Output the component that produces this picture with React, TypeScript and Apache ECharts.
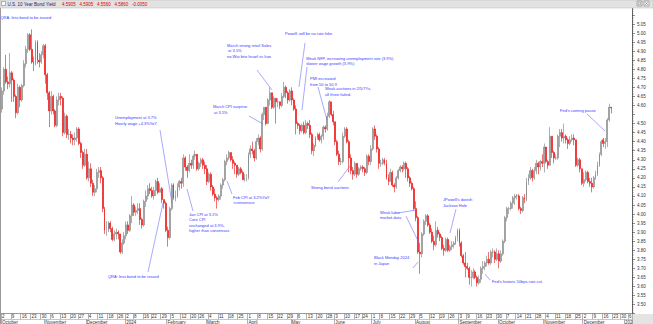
import React, { useEffect, useRef } from 'react';
import * as echarts from 'echarts';

// ---------- calendar ----------
const START = '2023-10-02';
const END = '2025-01-07';
const HOLIDAYS = ['2023-11-23', '2023-12-25', '2024-01-01', '2024-01-15', '2024-02-19', '2024-05-27', '2024-06-19', '2024-07-04', '2024-09-02', '2024-11-28', '2024-12-25', '2025-01-01'];
const MONTH_NAMES = ['January', 'February', 'March', 'April', 'May', 'June', 'July', 'August', 'September', 'October', 'November', 'December'];

// ---------- daily candles: [open, close, low, high] ----------
const oct23 = [[4.58,4.68,4.56,4.70],[4.68,4.80,4.66,4.81],[4.80,4.73,4.72,4.88],[4.73,4.72,4.69,4.76],[4.72,4.78,4.70,4.89],[4.78,4.74,4.62,4.79],[4.74,4.65,4.62,4.75],[4.65,4.56,4.53,4.66],[4.56,4.70,4.55,4.72],[4.70,4.63,4.59,4.71],[4.63,4.71,4.62,4.72],[4.71,4.83,4.70,4.85],[4.83,4.91,4.81,4.93],[4.91,4.99,4.89,5.00],[4.99,4.91,4.90,5.00],[4.91,4.84,4.83,5.02],[4.84,4.83,4.79,4.87],[4.83,4.95,4.82,4.96],[4.95,4.85,4.83,4.96],[4.85,4.84,4.81,4.89],[4.84,4.88,4.83,4.90],[4.88,4.93,4.86,4.94]];
const nov23 = [[4.93,4.77,4.72,4.94],[4.77,4.67,4.63,4.78],[4.67,4.57,4.48,4.68],[4.57,4.65,4.55,4.68],[4.65,4.57,4.55,4.66],[4.57,4.49,4.48,4.58],[4.49,4.63,4.48,4.65],[4.63,4.65,4.60,4.67],[4.65,4.64,4.60,4.67],[4.64,4.45,4.43,4.65],[4.45,4.54,4.44,4.56],[4.54,4.44,4.42,4.55],[4.44,4.44,4.41,4.47],[4.44,4.42,4.39,4.46],[4.42,4.41,4.38,4.44],[4.41,4.42,4.38,4.45],[4.42,4.47,4.40,4.48],[4.47,4.39,4.38,4.48],[4.39,4.34,4.31,4.40],[4.34,4.27,4.25,4.35],[4.27,4.33,4.26,4.36]];
const dec23 = [[4.33,4.20,4.19,4.36],[4.20,4.25,4.18,4.29],[4.25,4.17,4.15,4.28],[4.17,4.12,4.10,4.19],[4.12,4.14,4.10,4.16],[4.14,4.23,4.12,4.25],[4.23,4.24,4.20,4.26],[4.24,4.20,4.17,4.26],[4.20,4.03,4.01,4.21],[4.03,3.91,3.89,4.04],[3.91,3.91,3.88,3.96],[3.91,3.95,3.90,3.96],[3.95,3.92,3.90,3.96],[3.92,3.86,3.85,3.93],[3.86,3.89,3.85,3.91],[3.89,3.90,3.86,3.92],[3.90,3.89,3.86,3.91],[3.89,3.79,3.78,3.89],[3.79,3.84,3.78,3.86],[3.84,3.88,3.83,3.90]];
const jan24 = [[3.88,3.94,3.86,3.96],[3.94,3.91,3.89,3.96],[3.91,3.99,3.90,4.00],[3.99,4.05,3.95,4.10],[4.05,4.01,3.99,4.06],[4.01,4.02,3.99,4.04],[4.02,4.03,4.00,4.06],[4.03,3.97,3.94,4.06],[3.97,3.94,3.92,3.98],[3.94,4.07,3.93,4.08],[4.07,4.10,4.04,4.13],[4.10,4.14,4.08,4.16],[4.14,4.13,4.11,4.17],[4.13,4.10,4.09,4.15],[4.10,4.13,4.08,4.15],[4.13,4.18,4.10,4.19],[4.18,4.12,4.11,4.20],[4.12,4.14,4.12,4.17],[4.14,4.08,4.06,4.15],[4.08,4.06,4.03,4.08],[4.06,3.91,3.90,4.07]];
const feb24 = [[3.91,3.87,3.82,3.93],[3.87,4.03,3.86,4.04],[4.03,4.16,4.02,4.17],[4.16,4.09,4.08,4.17],[4.09,4.10,4.07,4.13],[4.10,4.15,4.09,4.17],[4.15,4.18,4.13,4.19],[4.18,4.17,4.14,4.20],[4.17,4.31,4.15,4.33],[4.31,4.26,4.24,4.32],[4.26,4.24,4.20,4.27],[4.24,4.28,4.23,4.33],[4.28,4.27,4.25,4.30],[4.27,4.32,4.25,4.33],[4.32,4.33,4.30,4.35],[4.33,4.25,4.24,4.33],[4.25,4.28,4.24,4.29],[4.28,4.30,4.26,4.31],[4.30,4.27,4.25,4.31],[4.27,4.25,4.22,4.29]];
const mar24 = [[4.25,4.18,4.16,4.27],[4.18,4.22,4.17,4.23],[4.22,4.15,4.13,4.23],[4.15,4.11,4.10,4.16],[4.11,4.09,4.07,4.14],[4.09,4.08,4.03,4.10],[4.08,4.10,4.07,4.11],[4.10,4.16,4.08,4.17],[4.16,4.19,4.14,4.20],[4.19,4.29,4.18,4.30],[4.29,4.31,4.27,4.33],[4.31,4.34,4.30,4.35],[4.34,4.30,4.29,4.34],[4.30,4.28,4.25,4.32],[4.28,4.27,4.22,4.29],[4.27,4.22,4.20,4.27],[4.22,4.25,4.21,4.26],[4.25,4.23,4.22,4.26],[4.23,4.19,4.19,4.24],[4.19,4.20,4.18,4.22],[4.20,4.20,4.18,4.22]];
const apr24 = [[4.20,4.33,4.19,4.34],[4.33,4.36,4.31,4.38],[4.36,4.35,4.33,4.40],[4.35,4.31,4.29,4.36],[4.31,4.40,4.30,4.42],[4.40,4.42,4.38,4.44],[4.42,4.36,4.34,4.43],[4.36,4.55,4.35,4.56],[4.55,4.59,4.52,4.59],[4.59,4.50,4.49,4.59],[4.50,4.63,4.50,4.64],[4.63,4.67,4.60,4.70],[4.67,4.59,4.58,4.67],[4.59,4.64,4.58,4.65],[4.64,4.62,4.50,4.64],[4.62,4.62,4.59,4.64],[4.62,4.60,4.58,4.62],[4.60,4.65,4.59,4.67],[4.65,4.70,4.64,4.73],[4.70,4.67,4.64,4.71],[4.67,4.63,4.61,4.68],[4.63,4.68,4.62,4.69]];
const may24 = [[4.68,4.63,4.60,4.70],[4.63,4.58,4.57,4.64],[4.58,4.50,4.44,4.60],[4.50,4.49,4.47,4.51],[4.49,4.46,4.44,4.50],[4.46,4.49,4.45,4.50],[4.49,4.45,4.44,4.51],[4.45,4.50,4.44,4.52],[4.50,4.49,4.47,4.51],[4.49,4.44,4.42,4.52],[4.44,4.35,4.33,4.45],[4.35,4.38,4.32,4.39],[4.38,4.42,4.37,4.43],[4.42,4.44,4.41,4.45],[4.44,4.41,4.40,4.45],[4.41,4.43,4.39,4.44],[4.43,4.48,4.41,4.49],[4.48,4.47,4.45,4.49],[4.47,4.54,4.46,4.56],[4.54,4.62,4.53,4.63],[4.62,4.55,4.54,4.62],[4.55,4.51,4.49,4.57]];
const jun24 = [[4.51,4.40,4.38,4.51],[4.40,4.33,4.32,4.41],[4.33,4.29,4.27,4.35],[4.29,4.29,4.27,4.31],[4.29,4.43,4.28,4.45],[4.43,4.47,4.42,4.48],[4.47,4.40,4.39,4.48],[4.40,4.31,4.23,4.41],[4.31,4.24,4.22,4.33],[4.24,4.22,4.19,4.26],[4.22,4.28,4.21,4.29],[4.28,4.22,4.20,4.28],[4.22,4.25,4.21,4.26],[4.25,4.26,4.24,4.27],[4.26,4.25,4.23,4.27],[4.25,4.23,4.21,4.26],[4.23,4.32,4.22,4.33],[4.32,4.29,4.27,4.33],[4.29,4.36,4.27,4.38]];
const jul24 = [[4.36,4.47,4.35,4.48],[4.47,4.43,4.41,4.49],[4.43,4.36,4.34,4.44],[4.36,4.28,4.25,4.37],[4.28,4.28,4.26,4.30],[4.28,4.30,4.27,4.31],[4.30,4.28,4.27,4.31],[4.28,4.20,4.19,4.30],[4.20,4.18,4.16,4.22],[4.18,4.23,4.18,4.25],[4.23,4.16,4.15,4.24],[4.16,4.15,4.12,4.17],[4.15,4.20,4.14,4.21],[4.20,4.24,4.19,4.25],[4.24,4.26,4.23,4.27],[4.26,4.25,4.23,4.27],[4.25,4.28,4.24,4.29],[4.28,4.25,4.20,4.29],[4.25,4.20,4.18,4.26],[4.20,4.17,4.15,4.21],[4.17,4.14,4.13,4.18],[4.14,4.03,4.02,4.15]];
const aug24 = [[4.03,3.98,3.96,4.07],[3.98,3.79,3.78,3.99],[3.79,3.78,3.67,3.84],[3.78,3.89,3.76,3.90],[3.89,3.96,3.88,3.97],[3.96,3.99,3.94,4.00],[3.99,3.94,3.93,4.00],[3.94,3.90,3.89,3.95],[3.90,3.85,3.84,3.92],[3.85,3.83,3.80,3.88],[3.83,3.91,3.82,3.96],[3.91,3.89,3.87,3.93],[3.89,3.87,3.85,3.90],[3.87,3.81,3.80,3.88],[3.81,3.80,3.77,3.83],[3.80,3.86,3.79,3.87],[3.86,3.80,3.79,3.87],[3.80,3.82,3.79,3.83],[3.82,3.83,3.80,3.85],[3.83,3.84,3.81,3.85],[3.84,3.87,3.83,3.88],[3.87,3.91,3.85,3.92]];
const sep24 = [[3.91,3.84,3.82,3.92],[3.84,3.77,3.76,3.85],[3.77,3.73,3.72,3.78],[3.73,3.71,3.65,3.79],[3.71,3.70,3.69,3.73],[3.70,3.65,3.61,3.71],[3.65,3.65,3.60,3.69],[3.65,3.68,3.64,3.70],[3.68,3.65,3.64,3.69],[3.65,3.62,3.60,3.66],[3.62,3.64,3.61,3.66],[3.64,3.70,3.62,3.71],[3.70,3.71,3.67,3.74],[3.71,3.73,3.69,3.74],[3.73,3.75,3.71,3.77],[3.75,3.73,3.72,3.79],[3.73,3.79,3.72,3.80],[3.79,3.79,3.76,3.81],[3.79,3.75,3.73,3.80],[3.75,3.78,3.74,3.81]];
const oct24 = [[3.78,3.74,3.70,3.80],[3.74,3.78,3.73,3.80],[3.78,3.85,3.77,3.86],[3.85,3.98,3.84,3.99],[3.98,4.03,3.96,4.04],[4.03,4.03,4.00,4.04],[4.03,4.06,4.02,4.07],[4.06,4.09,4.03,4.10],[4.09,4.10,4.05,4.11],[4.10,4.10,4.08,4.11],[4.10,4.03,4.02,4.11],[4.03,4.02,4.00,4.04],[4.02,4.09,4.01,4.10],[4.09,4.08,4.06,4.11],[4.08,4.18,4.07,4.20],[4.18,4.20,4.16,4.22],[4.20,4.24,4.19,4.26],[4.24,4.20,4.18,4.25],[4.20,4.24,4.19,4.26],[4.24,4.28,4.22,4.30],[4.28,4.26,4.22,4.29],[4.26,4.29,4.24,4.30],[4.29,4.28,4.26,4.33]];
const nov24 = [[4.28,4.37,4.23,4.39],[4.37,4.29,4.28,4.36],[4.29,4.27,4.25,4.30],[4.27,4.43,4.27,4.48],[4.43,4.34,4.31,4.43],[4.34,4.31,4.28,4.35],[4.31,4.31,4.30,4.33],[4.31,4.43,4.30,4.44],[4.43,4.45,4.37,4.47],[4.45,4.42,4.40,4.47],[4.42,4.43,4.39,4.50],[4.43,4.41,4.39,4.44],[4.41,4.39,4.36,4.42],[4.39,4.41,4.38,4.43],[4.41,4.42,4.40,4.44],[4.42,4.41,4.38,4.44],[4.41,4.27,4.26,4.41],[4.27,4.30,4.26,4.31],[4.30,4.25,4.23,4.31],[4.25,4.17,4.16,4.25]];
const dec24 = [[4.17,4.19,4.15,4.23],[4.19,4.23,4.18,4.24],[4.23,4.18,4.17,4.24],[4.18,4.17,4.15,4.20],[4.17,4.15,4.12,4.20],[4.15,4.20,4.14,4.21],[4.20,4.22,4.19,4.24],[4.22,4.27,4.21,4.29],[4.27,4.33,4.26,4.34],[4.33,4.40,4.32,4.41],[4.41,4.39,4.37,4.42],[4.39,4.40,4.36,4.42],[4.40,4.52,4.37,4.53],[4.52,4.591,4.51,4.61],[4.5905,4.586,4.556,4.5905]];

const MONTHS = [oct23, nov23, dec23, jan24, feb24, mar24, apr24, may24, jun24, jul24, aug24, sep24, oct24, nov24, dec24];

// ---------- header ----------
const TITLE = 'U.S. 10 Year Bond Yield';
const QUOTE = '4.5905   4.5905   4.5560   4.5860   -0.0050';

// ---------- annotations ----------
const NOTES = [
  { text: 'QRA: less bond to be issued', x: 0.5, y: 15 },
  { text: 'Unemployment at 3.7%\nHourly wage +4.3%YoY', x: 115, y: 114.3, lh: 6 },
  { text: 'QRA: less bond to be issued', x: 108, y: 273.5 },
  { text: 'Jan CPI at 3.1%\nCore CPI\nunchanged at 3.9%,\nhigher than consensus', x: 189, y: 211.3, lh: 5.5 },
  { text: 'Feb CPI at 3.2%YoY\n>consensus', x: 233, y: 194.3, lh: 5.5 },
  { text: 'March CPI surprise\n at 3.5%', x: 213, y: 104.3 },
  { text: 'March strong retail Sales\n at 3.5%\nno War btw Israel vs Iran', x: 227, y: 43 },
  { text: 'Powell: will be no rate hike', x: 285, y: 30.5 },
  { text: 'Weak NFP, increasing unemployment rate (3.9%)\nslower wage growth (3.9%)', x: 306, y: 56 },
  { text: 'PMI increased\nfrom 50 to 50.9', x: 310, y: 76.4 },
  { text: 'Weak auctions in 2/5/7Ys,\nall three failed.', x: 325, y: 86.4 },
  { text: 'Strong bond auctions', x: 311, y: 184.5 },
  { text: 'Weak labor\nmarket data', x: 380, y: 209.7 },
  { text: 'Black Monday 2024\nin Japan', x: 374, y: 255.4 },
  { text: "JPowell's dovish\nJackson Hole", x: 443, y: 197.4 },
  { text: "Fed's historic 50bps rate cut", x: 492, y: 279 },
  { text: "Fed's coming pause", x: 560, y: 107.5 },
];
const LEADERS = [
  [160, 130, 172, 203],
  [148, 272, 163, 203],
  [187, 189, 193, 211],
  [227, 181, 232, 194],
  [249, 116, 263, 124],
  [257, 70, 272, 90],
  [305, 43, 299, 87],
  [307, 67, 302, 110],
  [318, 87, 327, 120],
  [338, 182, 350, 166],
  [398, 213, 416, 210],
  [406, 216, 419, 243],
  [413, 268, 418, 262],
  [456, 209, 450, 233],
  [490, 280, 485, 274],
  [587, 114, 605, 131],
];

function tradingDays(): string[] {
  const out: string[] = [];
  const d = new Date(START + 'T00:00:00Z');
  const end = new Date(END + 'T00:00:00Z');
  while (d.getTime() <= end.getTime()) {
    const wd = d.getUTCDay();
    const s = d.toISOString().slice(0, 10);
    if (wd !== 0 && wd !== 6 && HOLIDAYS.indexOf(s) < 0) out.push(s);
    d.setUTCDate(d.getUTCDate() + 1);
  }
  return out;
}

function buildOption() {
  const dates = tradingDays();
  const dow = (s: string) => new Date(s + 'T00:00:00Z').getUTCDay();
  const isWeekStart = (i: number) => i === 0 || dow(dates[i]) <= dow(dates[i - 1]);
  const isMonthStart = (i: number) => i === 0 || dates[i].slice(5, 7) !== dates[i - 1].slice(5, 7);
  const candles: any[] = [];
  MONTHS.forEach((m) => m.forEach((c) => candles.push(c)));
  while (candles.length < dates.length) candles.push('-');
  const last = MONTHS[MONTHS.length - 1];
  const lastClose = last[last.length - 1][1];

  const font = 'Liberation Sans';
  const noteColor = '#3a3aff';
  const graphics: any[] = [];
  graphics.push({ type: 'line', shape: { x1: 0.5, y1: 8, x2: 0.5, y2: 324 }, style: { stroke: '#9a9a9a', lineWidth: 1 }, z: 10 });
  graphics.push({ type: 'rect', shape: { x: 633, y: 314, width: 20, height: 10 }, style: { fill: '#e4e4e4' }, z: 10 });
  graphics.push({ type: 'rect', shape: { x: 0, y: 0, width: 653, height: 8 }, style: { fill: '#e2e2e2', stroke: '#b8b8b8', lineWidth: 0.5 }, z: 20 });
  graphics.push({ type: 'rect', shape: { x: 1.5, y: 1.5, width: 4, height: 4 }, style: { fill: '#ffffff', stroke: '#6a6a6a', lineWidth: 0.5 }, z: 21 });
  graphics.push({ type: 'text', x: 7.5, y: 4, style: { text: TITLE, fill: '#1a1a6a', fontSize: 4.5, fontFamily: font, verticalAlign: 'middle' }, z: 21 });
  graphics.push({ type: 'text', x: 62, y: 4, style: { text: QUOTE, fill: '#e00000', fontSize: 4.5, fontFamily: font, verticalAlign: 'middle' }, z: 21 });
  graphics.push({ type: 'rect', shape: { x: 637, y: 1, width: 5, height: 5 }, style: { fill: '#f4f4f4', stroke: '#6a6a6a', lineWidth: 0.5 }, z: 21 });
  graphics.push({ type: 'rect', shape: { x: 644, y: 1, width: 5, height: 5 }, style: { fill: '#f4f4f4', stroke: '#6a6a6a', lineWidth: 0.5 }, z: 21 });
  graphics.push({ type: 'rect', shape: { x: 638.3, y: 2.3, width: 2.4, height: 2.4 }, style: { fill: 'none', stroke: '#555', lineWidth: 0.4 }, z: 22 });
  graphics.push({ type: 'line', shape: { x1: 645, y1: 2, x2: 648, y2: 5 }, style: { stroke: '#555', lineWidth: 0.4 }, z: 22 });
  graphics.push({ type: 'line', shape: { x1: 648, y1: 2, x2: 645, y2: 5 }, style: { stroke: '#555', lineWidth: 0.4 }, z: 22 });

  NOTES.forEach((n) => {
    graphics.push({
      type: 'text', x: n.x, y: n.y, z: 15,
      style: { text: n.text, fill: noteColor, fontSize: 4, fontFamily: font, lineHeight: n.lh || 5.2, verticalAlign: 'top' },
    });
  });
  LEADERS.forEach((l) => {
    graphics.push({ type: 'line', z: 15, shape: { x1: l[0], y1: l[1], x2: l[2], y2: l[3] }, style: { stroke: '#6f6fff', lineWidth: 0.6 } });
  });

  return {
    animation: false,
    backgroundColor: '#ffffff',
    grid: { left: 1, right: 21, top: 5.9, bottom: 10.4, outerBoundsMode: 'none', containLabel: false },
    xAxis: [
      {
        type: 'category', data: dates, boundaryGap: true, position: 'bottom', gridIndex: 0,
        axisLine: { show: true, lineStyle: { color: '#808080', width: 0.8 } },
        axisTick: { show: true, interval: (i: number) => isWeekStart(i), length: 5.5, lineStyle: { color: '#808080', width: 0.6 } },
        axisLabel: {
          show: true, interval: (i: number) => isWeekStart(i),
          formatter: (v: string) => String(parseInt(v.slice(8), 10)),
          fontSize: 4.5, color: '#333333', fontFamily: font, align: 'left', margin: 0.8,
        },
        splitLine: { show: false },
      },
      {
        type: 'category', data: dates, boundaryGap: true, position: 'bottom', offset: 5.6, gridIndex: 0,
        axisLine: { show: true, lineStyle: { color: '#a0a0a0', width: 0.6 } },
        axisTick: { show: true, interval: (i: number) => isMonthStart(i), length: 5, lineStyle: { color: '#808080', width: 0.6 } },
        axisLabel: {
          show: true, interval: (i: number) => isMonthStart(i),
          formatter: (v: string) => {
            const m = parseInt(v.slice(5, 7), 10) - 1;
            if (m === 0) return v.slice(0, 4) === '2025' ? '202' : v.slice(0, 4);
            return MONTH_NAMES[m];
          },
          fontSize: 4.5, color: '#333333', fontFamily: font, align: 'left', margin: 0.3,
        },
        splitLine: { show: false },
      },
    ],
    yAxis: {
      type: 'value', position: 'right', min: 3.45, max: 5.15, interval: 0.05, scale: true,
      axisLine: { show: true, lineStyle: { color: '#404040', width: 0.8 } },
      axisTick: { show: true, length: 3, lineStyle: { color: '#404040', width: 0.6 } },
      minorTick: { show: true, splitNumber: 5, length: 1.5, lineStyle: { color: '#606060', width: 0.5 } },
      axisLabel: {
        fontSize: 4.5, color: '#333333', fontFamily: font, margin: 5,
        formatter: (v: number) => (v > 5.06 || v < 3.49 || Math.abs(v - 4.55) < 0.001 ? '' : v.toFixed(2)),
      },
      splitLine: { show: false },
    },
    series: [
      {
        type: 'candlestick', data: candles, xAxisIndex: 0, yAxisIndex: 0, barWidth: '72%',
        itemStyle: { color: '#bdbdbd', color0: '#ff0000', borderColor: '#7a7a7a', borderColor0: '#e61010', borderWidth: 0.6 },
        markLine: {
          silent: true, symbol: ['none', 'none'], animation: false,
          lineStyle: { opacity: 0 },
          label: {
            show: true, position: 'end', distance: 2, offset: [0, 3], formatter: lastClose.toFixed(4),
            backgroundColor: '#3a0000', color: '#ff3030', fontSize: 4.5, fontFamily: font, padding: [0.5, 1.5, 0, 1.5],
            lineHeight: 5, borderColor: '#cc0000', borderWidth: 0.5,
          },
          data: [{ yAxis: lastClose }],
        },
      },
    ],
    graphic: graphics,
  };
}

export default function App() {
  const ref = useRef<HTMLDivElement>(null);
  useEffect(() => {
    if (!ref.current) return;
    const chart = echarts.init(ref.current, undefined, { renderer: 'svg' });
    chart.setOption(buildOption() as any);
    return () => chart.dispose();
  }, []);
  return <div ref={ref} style={{ position: 'fixed', left: 0, top: 0, width: 653, height: 324, background: '#fff' }} />;
}
